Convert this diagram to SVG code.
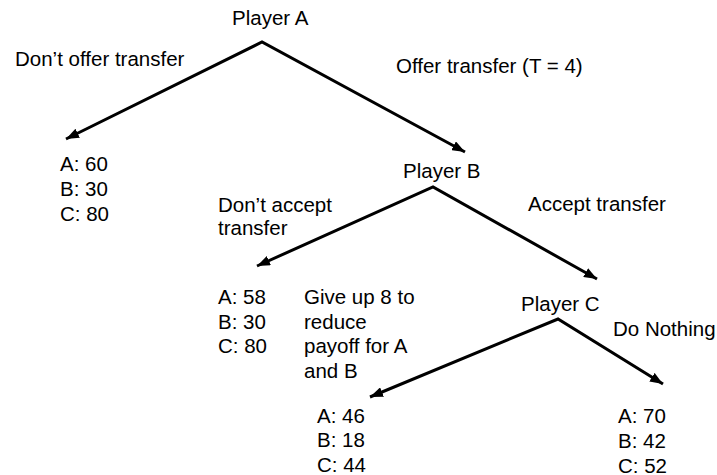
<svg xmlns="http://www.w3.org/2000/svg" width="717" height="475" viewBox="0 0 717 475">
<style>
text{font-family:"Liberation Sans",Arial,sans-serif;font-size:20.5px;fill:#000}
.edge{fill:none;stroke:#000;stroke-width:3;stroke-linejoin:miter;marker-start:url(#ah);marker-end:url(#ah)}
</style>
<defs>
<marker id="ah" markerUnits="userSpaceOnUse" markerWidth="14" markerHeight="10" viewBox="0 0 14 10" refX="13" refY="5" orient="auto-start-reverse">
<path d="M0,0 L13,5 L0,10 z" fill="#000"/>
</marker>
</defs>
<rect width="717" height="475" fill="#fff"/>
<g id="connectors">
<path class="edge" d="M66,139 L262,42 L465,152"/>
<path class="edge" d="M257,266 L433,187 L597,279"/>
<path class="edge" d="M370,397 L558,319 L663,384"/>
</g>
<g id="playerA"><text x="232" y="25">Player A</text></g>
<g id="label-dont-offer"><text x="15" y="66">Don’t offer transfer</text></g>
<g id="label-offer"><text x="396" y="73">Offer transfer (T = 4)</text></g>
<g id="leaf1"><text x="60" y="171">A: 60</text><text x="60" y="196">B: 30</text><text x="60" y="221">C: 80</text></g>
<g id="playerB"><text x="403" y="178">Player B</text></g>
<g id="label-dont-accept"><text x="218" y="212">Don’t accept</text><text x="218" y="235">transfer</text></g>
<g id="label-accept"><text x="528" y="211">Accept transfer</text></g>
<g id="leaf2"><text x="218" y="304">A: 58</text><text x="218" y="328.5">B: 30</text><text x="218" y="353">C: 80</text></g>
<g id="label-give-up"><text x="304" y="304">Give up 8 to</text><text x="304" y="328.5">reduce</text><text x="304" y="353">payoff for A</text><text x="304" y="377.5">and B</text></g>
<g id="playerC"><text x="521" y="311">Player C</text></g>
<g id="label-do-nothing"><text x="613" y="336">Do Nothing</text></g>
<g id="leaf3"><text x="317" y="423">A: 46</text><text x="317" y="447">B: 18</text><text x="317" y="472">C: 44</text></g>
<g id="leaf4"><text x="618" y="423">A: 70</text><text x="618" y="448">B: 42</text><text x="618" y="472.5">C: 52</text></g>
</svg>
